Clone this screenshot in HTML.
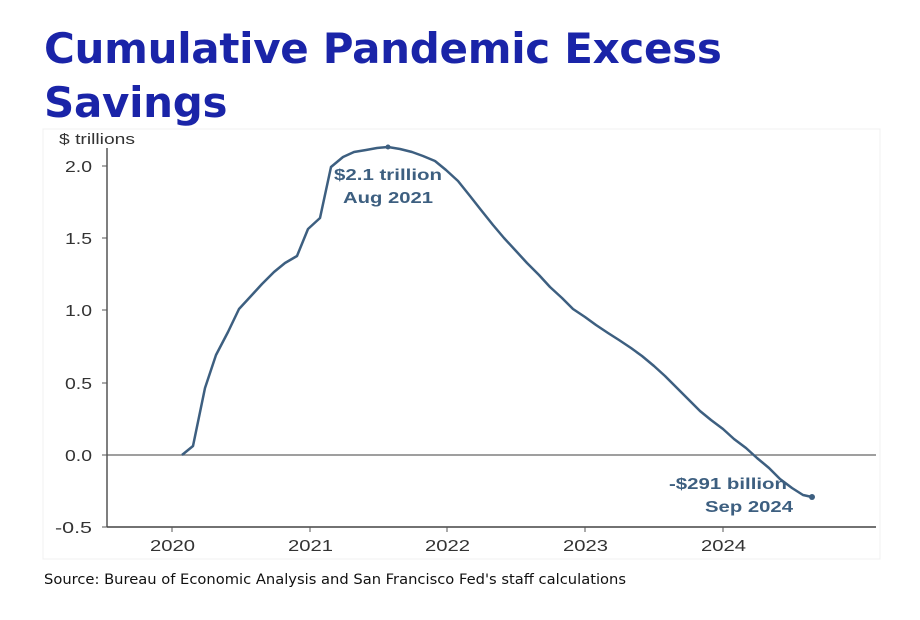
<!DOCTYPE html>
<html><head><meta charset="utf-8"><style>
body{margin:0;background:#fff;width:920px;height:620px;overflow:hidden;font-family:"Liberation Sans",sans-serif;}
.t{position:absolute;left:44px;top:22px;font:bold 42px/54px "DejaVu Sans","Liberation Sans",sans-serif;color:#1a24a8;letter-spacing:-0.3px}
</style></head><body>
<div class="t">Cumulative Pandemic Excess<br>Savings</div>
<svg width="920" height="620" style="position:absolute;left:0;top:0">
<rect x="43" y="129" width="837" height="430" fill="none" stroke="#f0f0f0"/>
<line x1="107" y1="455" x2="876" y2="455" stroke="#666" stroke-width="1.2"/>
<line x1="107" y1="148" x2="107" y2="527" stroke="#555" stroke-width="1.5"/>
<line x1="107" y1="527" x2="876" y2="527" stroke="#444" stroke-width="1.5"/>
<g stroke="#555"><line x1="102" y1="166" x2="107" y2="166"/><line x1="102" y1="238" x2="107" y2="238"/><line x1="102" y1="310" x2="107" y2="310"/><line x1="102" y1="383" x2="107" y2="383"/><line x1="102" y1="455" x2="107" y2="455"/><line x1="102" y1="527" x2="107" y2="527"/>
<line x1="172" y1="527" x2="172" y2="532"/><line x1="310" y1="527" x2="310" y2="532"/><line x1="447" y1="527" x2="447" y2="532"/><line x1="585" y1="527" x2="585" y2="532"/><line x1="723" y1="527" x2="723" y2="532"/></g>
<g font-family="Liberation Sans" font-size="16" fill="#333" lengthAdjust="spacingAndGlyphs">
<text x="65" y="172" textLength="27" lengthAdjust="spacingAndGlyphs">2.0</text><text x="65" y="244" textLength="27" lengthAdjust="spacingAndGlyphs">1.5</text><text x="65" y="316" textLength="27" lengthAdjust="spacingAndGlyphs">1.0</text><text x="65" y="389" textLength="27" lengthAdjust="spacingAndGlyphs">0.5</text><text x="65" y="461" textLength="27" lengthAdjust="spacingAndGlyphs">0.0</text><text x="55" y="533" textLength="37" lengthAdjust="spacingAndGlyphs">-0.5</text></g>
<g font-family="Liberation Sans" font-size="16" fill="#333">
<text x="150" y="551" textLength="45" lengthAdjust="spacingAndGlyphs">2020</text><text x="288" y="551" textLength="45" lengthAdjust="spacingAndGlyphs">2021</text><text x="425" y="551" textLength="45" lengthAdjust="spacingAndGlyphs">2022</text><text x="563" y="551" textLength="45" lengthAdjust="spacingAndGlyphs">2023</text><text x="701" y="551" textLength="45" lengthAdjust="spacingAndGlyphs">2024</text></g>
<text x="59" y="144" font-family="Liberation Sans" font-size="15" fill="#333" textLength="76" lengthAdjust="spacingAndGlyphs">$ trillions</text>
<polyline fill="none" stroke="#3d5f80" stroke-width="2.5" stroke-linejoin="round" points="182,455 193,446 205,388 216,355 228,332 239,309 251,296 262,284 274,272 285,263 297,256 308,229 320,218 331,167 343,157 354,152 366,150 377,148 388,147 400,149 412,152 423,156 435,161 446,170 458,181 470,196 481,210 493,225 504,238 516,251 527,263 539,275 550,287 562,298 573,309 585,317 596,325 608,333 619,340 631,348 642,356 654,366 665,376 677,388 688,399 700,411 711,420 723,429 734,439 746,448 757,458 769,468 780,479 792,488 803,495 812,497"/>
<circle cx="388" cy="147" r="2.5" fill="#3d5f80"/><circle cx="812" cy="497" r="3" fill="#3d5f80"/>
<g font-family="Liberation Sans" font-weight="bold" font-size="16" fill="#3d5f80">
<text x="334" y="180" textLength="108" lengthAdjust="spacingAndGlyphs">$2.1 trillion</text><text x="343" y="203" textLength="90" lengthAdjust="spacingAndGlyphs">Aug 2021</text>
<text x="669" y="489" textLength="118" lengthAdjust="spacingAndGlyphs">-$291 billion</text><text x="705" y="512" textLength="88" lengthAdjust="spacingAndGlyphs">Sep 2024</text></g>
<text x="44" y="584" font-family="DejaVu Sans" font-size="14" fill="#111" textLength="582" lengthAdjust="spacingAndGlyphs">Source: Bureau of Economic Analysis and San Francisco Fed's staff calculations</text>
</svg>
</body></html>
